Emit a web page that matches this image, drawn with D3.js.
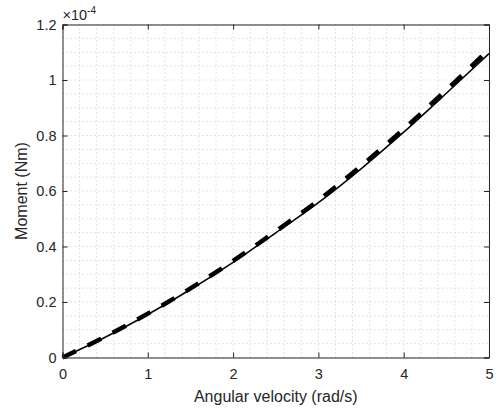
<!doctype html>
<html>
<head>
<meta charset="utf-8">
<script src="https://d3js.org/d3.v7.min.js"></script>
<style>
  body { margin: 0; background: #fff; }
  svg { display: block; font-family: "Liberation Sans", Arial, Helvetica, sans-serif; }
</style>
</head>
<body>
<svg id="chart" width="496" height="416"></svg>
<script>
// angular velocity (rad/s)
var omega = [0, 0.5, 1, 1.5, 2, 2.5, 3, 3.5, 4, 4.5, 5];
// moment, in units of 1e-4 Nm
var momentSolid  = [0, 0.073, 0.155, 0.245, 0.343, 0.449, 0.558, 0.680, 0.812, 0.952, 1.095];
var momentDashed = [0, 0.075, 0.158, 0.249, 0.348, 0.455, 0.566, 0.690, 0.823, 0.964, 1.110];
var xTicks = [0, 1, 2, 3, 4, 5];
var yTicks = [0, 0.2, 0.4, 0.6, 0.8, 1, 1.2];

var svg = d3.select("#chart");
var mLeft = 62.5, mRight = 489, mTop = 24.5, mBottom = 357.5;
var axisColor = "#262626";
var font = "'Liberation Sans', Arial, Helvetica, sans-serif";
var tickFont = 14.5, labelFont = 16;

var x = d3.scaleLinear().domain([0, 5]).range([mLeft, mRight]);
var y = d3.scaleLinear().domain([0, 1.2]).range([mBottom, mTop]);

// grid (major + minor, all dotted)
var grid = svg.append("g");
var xGrid = d3.range(0, 5.0001, 0.2);
var yGrid = d3.range(0, 1.2001, 0.05);
grid.selectAll(".gx").data(xGrid).enter().append("line")
    .attr("x1", d => x(d)).attr("x2", d => x(d))
    .attr("y1", mTop).attr("y2", mBottom)
    .attr("stroke", "#c8c8c8").attr("stroke-width", 1)
    .attr("stroke-dasharray", "1,3");
grid.selectAll(".gy").data(yGrid).enter().append("line")
    .attr("x1", mLeft).attr("x2", mRight)
    .attr("y1", d => y(d)).attr("y2", d => y(d))
    .attr("stroke", "#c8c8c8").attr("stroke-width", 1)
    .attr("stroke-dasharray", "1,3");

// curves
var line = d3.line().curve(d3.curveMonotoneX);
var solidPts = omega.map((w, i) => [x(w), y(momentSolid[i])]);
var dashPts = omega.map((w, i) => [x(w), y(momentDashed[i])]);

svg.append("path")
    .attr("d", line(dashPts))
    .attr("fill", "none")
    .attr("stroke", "#000")
    .attr("stroke-width", 4.5)
    .attr("stroke-dasharray", "15,13");

svg.append("path")
    .attr("d", line(solidPts))
    .attr("fill", "none")
    .attr("stroke", "#000")
    .attr("stroke-width", 1.5);

// axes
var xAxis = d3.axisBottom(x).tickValues(xTicks).tickSize(-5).tickPadding(11).tickFormat(d3.format("d"));
var yAxis = d3.axisLeft(y).tickValues(yTicks).tickSize(-5).tickPadding(6).tickFormat(d => d === 0 ? "0" : d3.format("~g")(d));
var xTop = d3.axisTop(x).tickValues(xTicks).tickSize(-5).tickFormat("");
var yRight = d3.axisRight(y).tickValues(yTicks).tickSize(-5).tickFormat("");

function style(g) {
  g.select(".domain").attr("stroke", axisColor).attr("stroke-width", 1);
  g.selectAll(".tick line").attr("stroke", axisColor);
  g.selectAll(".tick text").attr("fill", axisColor).attr("font-size", tickFont).attr("font-family", font);
}

svg.append("g").attr("transform", "translate(0," + mBottom + ")").call(xAxis).call(style);
svg.append("g").attr("transform", "translate(" + mLeft + ",0)").call(yAxis).call(style);
svg.append("g").attr("transform", "translate(0," + mTop + ")").call(xTop).call(style);
svg.append("g").attr("transform", "translate(" + mRight + ",0)").call(yRight).call(style);

// exponent
var exp = svg.append("text")
    .attr("x", mLeft)
    .attr("y", 20)
    .attr("fill", axisColor)
    .attr("font-family", font)
    .attr("font-size", tickFont);
exp.append("tspan").text("\u00d710");
exp.append("tspan").attr("dy", -6).attr("font-size", 10).text("-4");

// labels
svg.append("text")
    .attr("x", (mLeft + mRight) / 2)
    .attr("y", 402)
    .attr("text-anchor", "middle")
    .attr("fill", axisColor)
    .attr("font-family", font)
    .attr("font-size", labelFont)
    .text("Angular velocity (rad/s)");

svg.append("text")
    .attr("transform", "translate(27," + ((mTop + mBottom) / 2) + ") rotate(-90)")
    .attr("text-anchor", "middle")
    .attr("fill", axisColor)
    .attr("font-family", font)
    .attr("font-size", labelFont)
    .text("Moment (Nm)");
</script>
</body>
</html>
